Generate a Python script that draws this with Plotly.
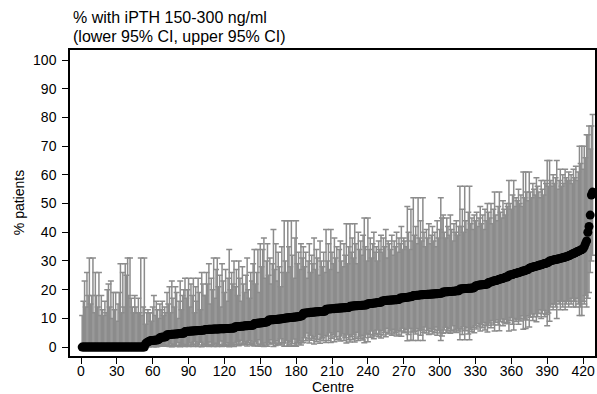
import plotly.graph_objects as go

# % with iPTH 150-300 ng/ml per centre, sorted ascending
pct = [
    0, 0, 0, 0, 0, 0, 0, 0, 0, 0,
    0, 0, 0, 0, 0, 0, 0, 0, 0, 0,
    0, 0, 0, 0, 0, 0, 0, 0, 0, 0,
    0, 0, 0, 0, 0, 0, 0, 0, 0, 0,
    0, 0, 0, 0, 0, 0, 0, 0, 0, 0,
    0, 0, 0,
    1.2, 1.5, 1.8, 2.0,
    2.2, 2.3, 2.3, 2.4, 2.4, 2.5, 2.5, 2.6,
    3.3, 3.4, 3.4, 3.5, 3.5, 3.6,
    4.3, 4.3, 4.4, 4.4, 4.5, 4.5, 4.5, 4.6, 4.6, 4.6, 4.7, 4.7, 4.8, 4.8, 4.8,
    5.4, 5.4, 5.5, 5.5, 5.5, 5.6, 5.6, 5.6, 5.7, 5.7, 5.7, 5.8, 5.8, 5.8, 5.9, 5.9, 5.9,
    6.1, 6.1, 6.1, 6.2, 6.2, 6.2, 6.2, 6.3, 6.3, 6.3, 6.3, 6.3, 6.4, 6.4, 6.4, 6.4, 6.4,
    6.5, 6.5, 6.5, 6.5, 6.6, 6.6, 6.6, 6.6,
    7.1, 7.1, 7.2, 7.2, 7.2, 7.3, 7.3, 7.3, 7.4, 7.4, 7.4, 7.5, 7.5, 7.5, 7.6, 7.6,
    8.2, 8.2, 8.3, 8.3, 8.4, 8.4, 8.5, 8.5, 8.6, 8.7, 8.7, 8.8,
    9.4, 9.4, 9.5, 9.5, 9.5, 9.6, 9.6, 9.7, 9.7, 9.8, 9.8, 9.9, 9.9,
    10.0, 10.1, 10.1, 10.2, 10.2, 10.3, 10.3, 10.4, 10.4, 10.5, 10.5, 10.6, 10.6, 10.7, 10.8, 10.9,
    11.8, 11.8, 11.9, 11.9, 12.0, 12.0, 12.1, 12.1, 12.1, 12.2, 12.2, 12.3, 12.3, 12.3, 12.4, 12.4,
    12.4, 12.5, 12.5,
    13.2, 13.2, 13.3, 13.3, 13.3, 13.4, 13.4, 13.4, 13.5, 13.5, 13.5, 13.6, 13.6, 13.6, 13.7, 13.7,
    13.7, 13.8, 13.8, 13.8,
    14.2, 14.2, 14.3, 14.3, 14.4, 14.4, 14.4, 14.5, 14.5, 14.5, 14.6, 14.6, 14.6, 14.7, 14.7,
    15.1, 15.1, 15.2, 15.2, 15.3, 15.3, 15.4, 15.4, 15.5, 15.5, 15.6, 15.6,
    16.1, 16.1, 16.2, 16.2, 16.3, 16.3, 16.3, 16.4, 16.4, 16.4, 16.5, 16.5, 16.5, 16.6, 16.6,
    17.1, 17.1, 17.2, 17.2, 17.3, 17.3, 17.4, 17.4, 17.5, 17.5, 17.6,
    18.0, 18.0, 18.0, 18.1, 18.1, 18.1, 18.2, 18.2, 18.2, 18.3, 18.3, 18.3, 18.4, 18.4, 18.4,
    18.5, 18.5, 18.5, 18.6, 18.6, 18.6, 18.7, 18.7, 18.8, 18.8,
    19.2, 19.2, 19.3, 19.3, 19.3, 19.4, 19.4, 19.4, 19.5, 19.5, 19.5, 19.6, 19.6, 19.6,
    20.2, 20.2, 20.3, 20.3, 20.4, 20.4, 20.4, 20.5, 20.5, 20.5, 20.6, 20.6, 20.7,
    21.3, 21.4, 21.5, 21.6, 21.6, 21.7, 21.7, 21.8, 21.8, 21.9, 22.0,
    22.5, 22.6, 22.7, 22.8, 23.0, 23.1, 23.2, 23.3, 23.5, 23.6, 23.7, 23.9, 24.0, 24.1, 24.3, 24.4, 24.5,
    25.0, 25.1, 25.2, 25.3, 25.5, 25.6, 25.7, 25.8, 26.0, 26.1, 26.2, 26.4, 26.5, 26.6, 26.8, 26.9, 27.0,
    27.5, 27.6, 27.7, 27.9, 28.0, 28.1, 28.2, 28.3, 28.5, 28.6, 28.7, 28.8, 29.0, 29.1, 29.2, 29.4, 29.5,
    30.0, 30.1, 30.2, 30.3, 30.4, 30.5, 30.6, 30.7, 30.8, 30.9, 31.0, 31.1, 31.2, 31.4, 31.5, 31.6, 31.8,
    32.0, 32.2, 32.4, 32.6, 32.8, 33.0, 33.2, 33.4, 33.6, 33.8, 34.0, 34.2,
    35, 36, 37, 40, 42, 46, 53, 54,
]

# upper 95% CI
upper = [
    11, 16, 23, 14, 26, 18, 31, 15, 18, 31,
    12, 26, 18, 14, 26, 11, 18, 13, 11, 16,
    12, 20, 22, 14, 23, 10, 19, 13, 19, 9,
    15, 19, 29, 12, 26, 14, 29, 25, 31, 18,
    31, 17, 14, 12, 18, 14, 12, 17, 12, 31,
    11, 14, 31,
    8, 12, 13, 12,
    12, 9, 14, 18, 11, 16, 13, 10,
    15, 13, 16, 11, 14, 12,
    19, 15, 21, 12, 23, 17, 14, 21, 19, 10, 16, 23, 13, 18, 20,
    24, 17, 20, 24, 14, 22, 18, 24, 12, 21, 16, 24, 19, 13, 26, 22, 18,
    18, 26, 22, 29, 15, 24, 20, 31, 17, 27, 31, 21, 25, 14, 29, 23, 19,
    27, 16, 24, 34, 20, 26, 22, 30,
    21, 27, 18, 30, 24, 16, 28, 22, 19, 25, 31, 20, 17, 26, 23, 29,
    34, 22, 26, 34, 19, 36, 28, 34, 38, 24, 30, 36,
    25, 31, 22, 29, 41, 27, 36, 23, 33, 28, 21, 35, 26,
    44, 30, 26, 44, 35, 28, 44, 32, 24, 38, 44, 29, 33, 27, 36, 31,
    35, 28, 33, 24, 30, 36, 26, 32, 29, 38, 27, 34, 31, 25, 37, 30,
    28, 33, 26,
    41, 30, 36, 27, 41, 33, 29, 38, 31, 35, 26, 34, 37, 30, 28, 36,
    32, 43, 29, 35,
    43, 33, 38, 31, 43, 36, 29, 40, 34, 37, 32, 39, 45, 35, 30,
    45, 34, 38, 31, 36, 40, 33, 35, 30, 37, 34, 39,
    33, 38, 35, 41, 31, 37, 36, 34, 39, 32, 37, 35, 40, 33, 38,
    36, 42, 34, 38, 37, 35, 49, 40, 34, 48, 37,
    52, 39, 42, 36, 52, 38, 44, 37, 52, 40, 35, 41, 38, 43, 36,
    39, 42, 37, 40, 35, 44, 38, 41, 52, 45,
    46, 40, 38, 45, 42, 39, 46, 41, 37, 43, 40, 44, 39, 42,
    56, 42, 48, 40, 56, 44, 41, 47, 56, 43, 45, 41, 46,
    44, 47, 42, 45, 49, 43, 46, 41, 48, 44, 50,
    47, 45, 50, 43, 48, 54, 46, 44, 49, 54, 47, 45, 51, 48, 46, 50, 49,
    58, 50, 48, 53, 58, 49, 52, 51, 55, 50, 53, 49, 61, 52, 61, 54, 51,
    61, 54, 52, 57, 55, 53, 59, 56, 54, 52, 58, 55, 53, 58, 57, 65, 56,
    65, 58, 56, 60, 57, 59, 65, 55, 58, 62, 56, 60, 57, 62, 59, 58, 61,
    58, 60, 57, 62, 59, 63, 58, 61, 70, 64, 70, 62,
    70, 66, 74, 74, 77, 69, 77, 81,
]

# lower 95% CI
lower = [
    0, 0, 0, 0, 0, 0, 0, 0, 0, 0,
    0, 0, 0, 0, 0, 0, 0, 0, 0, 0,
    0, 0, 0, 0, 0, 0, 0, 0, 0, 0,
    0, 0, 0, 0, 0, 0, 0, 0, 0, 0,
    0, 0, 0, 0, 0, 0, 0, 0, 0, 0,
    0, 0, 0,
    0.0, 0.1, 0.1, 0.1,
    0.3, 0.5, 0.2, 0.1, 0.3, 0.1, 0.2, 0.4,
    0.4, 0.5, 0.3, 0.8, 0.4, 0.6,
    0.3, 0.6, 0.2, 1.1, 0.1, 0.5, 0.8, 0.2, 0.3, 1.6, 0.6, 0.1, 1.0, 0.4, 0.3,
    0.2, 0.9, 0.5, 0.2, 1.4, 0.3, 0.8, 0.2, 1.9, 0.4, 1.1, 0.2, 0.7, 1.7, 0.1, 0.3, 0.8,
    1.1, 0.4, 0.7, 0.2, 1.8, 0.5, 0.9, 0.2, 1.3, 0.3, 0.2, 0.8, 0.4, 2.1, 0.2, 0.6, 1.0,
    0.3, 1.5, 0.5, 0.1, 0.9, 0.4, 0.7, 0.2,
    1.4, 0.8, 2.0, 0.5, 1.0, 2.4, 0.7, 1.3, 1.8, 1.0, 0.4, 1.6, 2.2, 0.9, 1.2, 0.6,
    0.4, 1.8, 1.1, 0.4, 2.6, 0.3, 0.9, 0.4, 0.2, 1.4, 0.7, 0.3,
    1.6, 1.1, 2.6, 1.2, 0.2, 1.4, 0.6, 2.2, 0.9, 1.3, 2.9, 0.7, 1.5,
    0.3, 1.4, 2.2, 0.3, 0.7, 1.8, 0.3, 1.2, 2.8, 0.5, 0.3, 1.6, 1.1, 2.1, 0.7, 1.5,
    1.6, 3.3, 2.2, 4.9, 2.8, 1.4, 4.0, 2.4, 3.1, 1.1, 3.6, 1.9, 2.6, 4.5, 1.3, 2.8,
    3.3, 2.2, 4.0,
    1.6, 3.9, 2.3, 5.0, 1.6, 3.1, 4.3, 1.9, 3.6, 2.6, 5.4, 2.8, 2.1, 3.9, 4.6, 2.3,
    3.3, 1.4, 4.3, 2.6,
    1.8, 3.7, 2.6, 4.4, 1.8, 3.0, 5.2, 2.3, 3.5, 2.9, 4.1, 2.5, 1.5, 3.3, 4.8,
    1.9, 4.4, 3.4, 5.6, 3.9, 2.9, 4.7, 4.2, 6.0, 3.6, 4.4, 3.2,
    5.8, 4.2, 5.1, 3.6, 6.6, 4.6, 4.9, 5.6, 4.1, 6.2, 4.6, 5.1, 3.9, 5.8, 4.2,
    5.6, 3.8, 6.6, 5.0, 5.3, 6.1, 2.2, 4.4, 6.6, 2.4, 5.3,
    2.3, 5.4, 4.6, 6.5, 2.3, 5.8, 4.1, 6.1, 2.3, 5.1, 7.0, 4.9, 5.8, 4.4, 6.5,
    5.4, 4.6, 6.1, 5.1, 7.0, 4.1, 5.8, 4.9, 2.3, 3.9,
    4.8, 6.0, 6.9, 5.0, 5.6, 6.5, 4.8, 5.8, 7.4, 5.3, 6.0, 5.1, 6.5, 5.6,
    2.6, 6.3, 4.4, 7.1, 2.6, 5.7, 6.8, 4.6, 2.6, 6.1, 5.4, 6.8, 5.0,
    7.4, 6.3, 8.2, 7.0, 5.6, 7.8, 6.7, 8.6, 6.0, 7.4, 5.3,
    7.6, 8.4, 6.7, 9.3, 7.7, 5.6, 8.7, 9.5, 7.7, 5.7, 8.9, 9.8, 7.4, 8.6, 9.6, 8.1, 8.6,
    5.6, 9.3, 10.3, 8.0, 6.0, 10.0, 8.9, 9.5, 8.0, 10.0, 9.1, 10.9, 6.2, 9.8, 6.5, 9.4, 10.9,
    7.0, 10.4, 11.5, 9.3, 10.6, 11.6, 8.8, 10.6, 11.8, 13.0, 10.0, 11.6, 12.8, 10.6, 11.4, 7.4, 11.9,
    9, 14, 15, 13, 15, 14, 10, 16, 15, 13, 16, 14, 16, 13, 15, 16, 14,
    16, 15, 17, 14, 16, 14, 17, 15, 11, 14, 11, 16,
    15, 18, 14, 17, 19, 26, 30, 32,
]

assert len(pct) == len(upper) == len(lower), (len(pct), len(upper), len(lower))

centre = list(range(1, len(pct) + 1))
x_ticks = list(range(0, 421, 30))
y_ticks = list(range(0, 101, 10))
title_lines = ["% with iPTH 150-300 ng/ml", "(lower 95% CI, upper 95% CI)"]

err_plus = [u - p for u, p in zip(upper, pct)]
err_minus = [p - l for p, l in zip(pct, lower)]

FONT = "Liberation Sans, Arial, Helvetica, sans-serif"
W, H = 597, 394
ML, MR, MT, MB = 70, 0, 50, 38
PW, PH = W - ML - MR, H - MT - MB


def py(pix):
    """pixel row (from top of page) -> paper y"""
    return (H - MB - pix) / PH


def px(pix):
    """pixel column -> paper x"""
    return (pix - ML) / PW


fig = go.Figure(
    go.Scatter(
        x=centre, y=pct, mode="markers",
        marker=dict(color="black", size=9, line=dict(width=0)),
        error_y=dict(type="data", symmetric=False, array=err_plus, arrayminus=err_minus,
                     color="#8c8c8c", thickness=1.5, width=3),
        showlegend=False,
    )
)

annotations = [
    dict(text=title_lines[0], xref="paper", yref="paper", x=px(71), y=py(18),
         xanchor="left", yanchor="middle", showarrow=False,
         font=dict(size=16, family=FONT, color="black")),
    dict(text=title_lines[1], xref="paper", yref="paper", x=px(71), y=py(37),
         xanchor="left", yanchor="middle", showarrow=False,
         font=dict(size=16, family=FONT, color="black")),
    dict(text="Centre", xref="paper", yref="paper", x=0.5, y=py(387),
         xanchor="center", yanchor="middle", showarrow=False,
         font=dict(size=14, family=FONT, color="black")),
    dict(text="% patients", xref="paper", yref="paper", x=px(19), y=0.5,
         textangle=-90, xanchor="center", yanchor="middle", showarrow=False,
         font=dict(size=14, family=FONT, color="black")),
]

fig.update_layout(
    width=W, height=H,
    margin=dict(l=ML, r=MR, t=MT, b=MB),
    paper_bgcolor="white", plot_bgcolor="white",
    font=dict(family=FONT, color="black", size=14),
    xaxis=dict(range=[-9.2, 430], tickvals=x_ticks, ticks="outside", ticklen=6,
               tickwidth=1, tickcolor="black", showline=True, linecolor="black",
               linewidth=1.5, mirror=True, showgrid=False, zeroline=False,
               ticklabelstandoff=-5,
               tickfont=dict(size=14, family=FONT)),
    yaxis=dict(range=[-3.1, 103.5], tickvals=y_ticks, ticks="outside", ticklen=6,
               tickwidth=1, tickcolor="black", showline=True, linecolor="black",
               linewidth=1.5, mirror=True, showgrid=False, zeroline=False,
               ticklabelstandoff=3,
               tickfont=dict(size=14, family=FONT)),
    annotations=annotations,
)

fig.write_html("out.html")
